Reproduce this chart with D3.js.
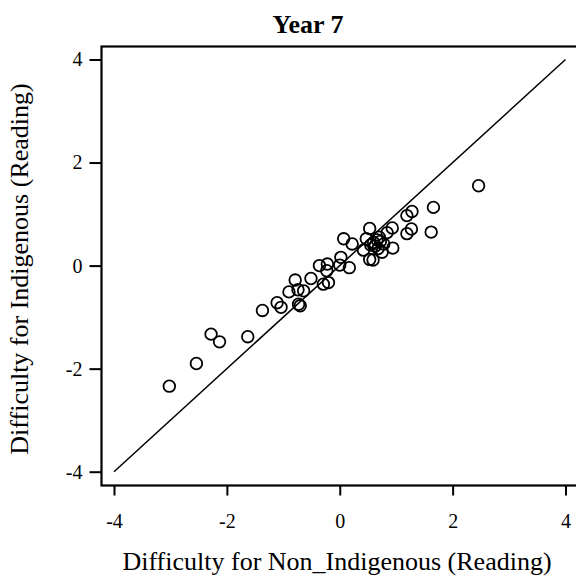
<!DOCTYPE html>
<html><head><meta charset="utf-8">
<script src="https://cdn.jsdelivr.net/npm/d3@7"></script>
<style>body{margin:0;background:#fff}svg{display:block}</style>
</head><body>
<svg id="c" width="576" height="582"></svg>
<script>
const xVals = [-3.02,-2.54,-2.28,-2.13,-1.63,-1.37,-1.11,-1.04,-0.90,-0.79,-0.74,-0.64,-0.73,-0.70,-0.51,-0.36,-0.22,-0.23,-0.29,-0.20,0.02,0.00,0.17,0.07,0.22,0.53,0.47,0.60,0.66,0.72,0.63,0.55,0.42,0.53,0.59,0.75,0.94,0.84,0.93,1.19,1.28,1.19,1.27,1.66,1.62,2.46,0.70,0.78,0.68];
const yVals = [-2.34,-1.90,-1.33,-1.48,-1.38,-0.87,-0.72,-0.81,-0.51,-0.28,-0.47,-0.49,-0.75,-0.78,-0.25,0.00,0.03,-0.10,-0.36,-0.33,0.16,0.01,-0.04,0.52,0.42,0.72,0.52,0.45,0.50,0.47,0.38,0.40,0.30,0.12,0.11,0.26,0.34,0.64,0.73,0.97,1.05,0.62,0.71,1.13,0.65,1.55,0.55,0.42,0.33];
const tickVals = [-4,-2,0,2,4];
const refLine = [-4,4];

(function(){
const svg = d3.select("#c");
const x = d3.scaleLinear().domain([-4,4]).range([114,565.5]);
const y = d3.scaleLinear().domain([-4,4]).range([471.7,59.5]);
const fl = 101.5, ft = 46.5, fb = 485.5, fr = 590;
const font = "Liberation Serif, Times New Roman, serif";

svg.append("rect").attr("x",fl).attr("y",ft).attr("width",fr-fl).attr("height",fb-ft)
  .attr("fill","none").attr("stroke","#000").attr("stroke-width",2.2);

const xa = svg.append("g").attr("transform",`translate(0,${fb})`)
  .call(d3.axisBottom(x).tickValues(tickVals).tickSize(10).tickPadding(18).tickFormat(d3.format("d")));
const ya = svg.append("g").attr("transform",`translate(${fl},0)`)
  .call(d3.axisLeft(y).tickValues(tickVals).tickSize(12).tickPadding(7).tickFormat(d3.format("d")));
[xa,ya].forEach(a=>{
  a.attr("font-family",font).attr("font-size",20);
  a.select(".domain").remove();
  a.selectAll(".tick line").attr("stroke","#000").attr("stroke-width",2);
  a.selectAll(".tick text").attr("fill","#000").attr("font-family",font).attr("font-size",20);
  a.selectAll(".tick text").text(d=>d<0?"-"+Math.abs(d):d);
});

svg.append("line").attr("x1",x(refLine[0])).attr("y1",y(refLine[0])).attr("x2",x(refLine[1])).attr("y2",y(refLine[1]))
  .attr("stroke","#000").attr("stroke-width",1.5);

svg.append("g").selectAll("circle").data(xVals.map((v,i)=>[v,yVals[i]])).join("circle")
  .attr("cx",d=>x(d[0])).attr("cy",d=>y(d[1])).attr("r",5.8)
  .attr("fill","none").attr("stroke","#000").attr("stroke-width",1.8);

svg.append("text").attr("x",308).attr("y",33).attr("text-anchor","middle")
  .attr("font-family",font).attr("font-size",26).attr("font-weight","bold").text("Year 7");
svg.append("text").attr("x",337).attr("y",570).attr("text-anchor","middle")
  .attr("font-family",font).attr("font-size",26).text("Difficulty for Non_Indigenous (Reading)");
svg.append("text").attr("transform","translate(28,269) rotate(-90)").attr("text-anchor","middle")
  .attr("font-family",font).attr("font-size",26).text("Difficulty for Indigenous (Reading)");
})();
</script>
</body></html>
